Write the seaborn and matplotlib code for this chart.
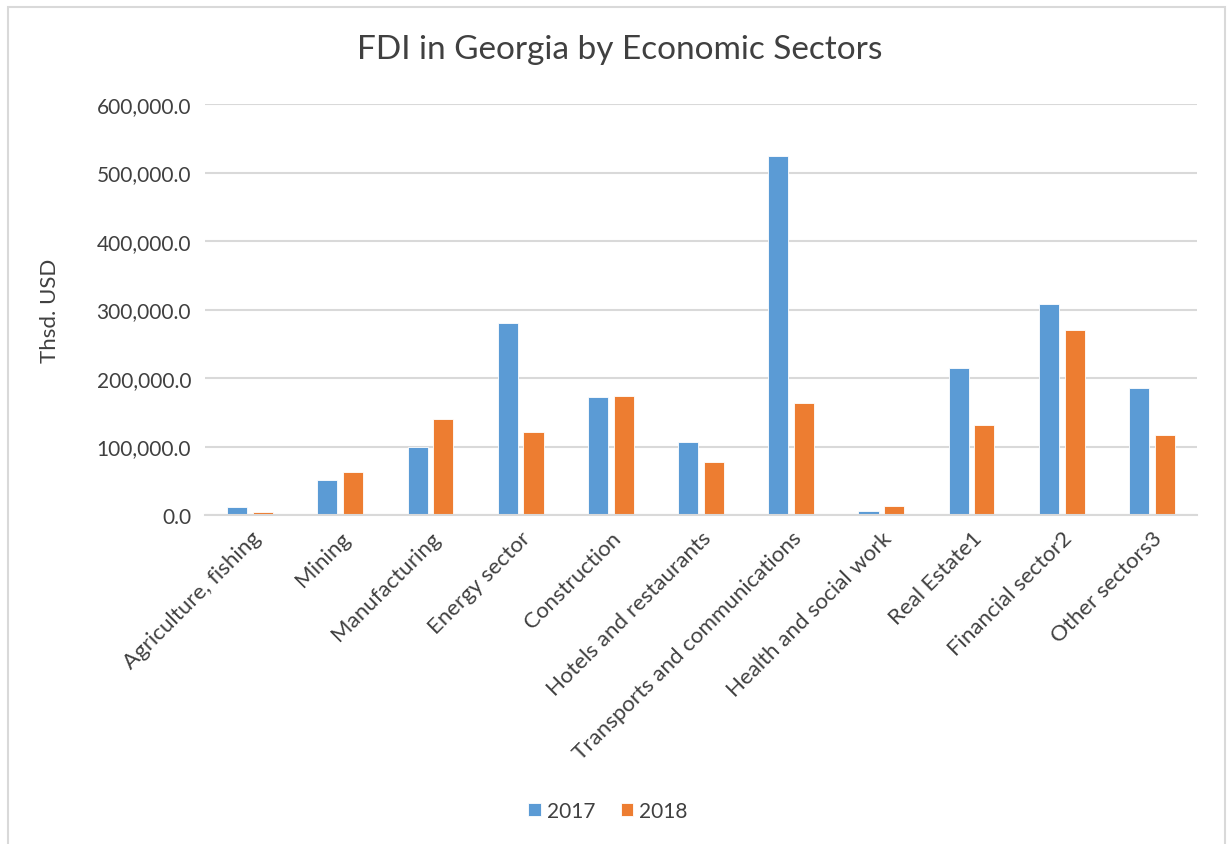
import matplotlib
matplotlib.use("Agg")
import matplotlib.pyplot as plt
from matplotlib.patches import Rectangle
from matplotlib.ticker import FuncFormatter
import seaborn as sns
import pandas as pd

# FDI by economic sector, thousands of USD
sectors = [
    "Agriculture, fishing", "Mining", "Manufacturing", "Energy sector",
    "Construction", "Hotels and restaurants", "Transports and communications",
    "Health and social work", "Real Estate1", "Financial sector2", "Other sectors3",
]
fdi_2017 = [11700, 51000, 99300, 280400, 172300, 107000, 524100, 5800, 214600, 307600, 185000]
fdi_2018 = [4000, 62800, 140000, 121200, 173000, 77800, 163500, 12700, 131400, 270500, 117200]
years = ["2017", "2018"]
colors = ["#5B9BD5", "#ED7D31"]

df = pd.DataFrame({
    "sector": sectors * 2,
    "year": [years[0]] * len(sectors) + [years[1]] * len(sectors),
    "value": fdi_2017 + fdi_2018,
})

sns.set_theme(style="white")
plt.rcParams["font.family"] = ["Lato", "DejaVu Sans"]
text_color = "#404040"

fig = plt.figure(figsize=(12.32, 8.45), dpi=100)
ax = fig.add_axes([205 / 1232, 1 - 516 / 845, (1197 - 205) / 1232, (516 - 105) / 845])

sns.barplot(data=df, x="sector", y="value", hue="year", palette=colors,
            width=0.57, gap=0.22, ax=ax, legend=True,
            edgecolor="white", linewidth=0.6, saturation=1)

ax.set_ylim(0, 600000)
ax.set_xlim(-0.5, len(sectors) - 0.5)
ax.set_yticks(range(0, 600001, 100000))
ax.yaxis.set_major_formatter(FuncFormatter(lambda v, p: f"{v:,.1f}"))
ax.grid(axis="y", color="#D9D9D9", linewidth=1.5)
ax.set_axisbelow(True)
for s in ["top", "right", "left"]:
    ax.spines[s].set_visible(False)
ax.spines["bottom"].set_color("#D9D9D9")
ax.spines["bottom"].set_linewidth(1.5)

ax.tick_params(axis="y", length=0, labelsize=15, colors=text_color, pad=10)
ax.tick_params(axis="x", length=0, labelsize=16, colors=text_color, pad=9)
plt.setp(ax.get_xticklabels(), rotation=45, ha="right", rotation_mode="anchor")
ax.set_xlabel("")
ax.set_ylabel("Thsd. USD", fontsize=16, color=text_color, labelpad=26)

fig.text(620 / 1232, 1 - 50 / 845, "FDI in Georgia by Economic Sectors",
         ha="center", va="center", fontsize=24, color=text_color)

leg = ax.legend(loc="center", bbox_to_anchor=(608 / 1232, 1 - 812 / 845),
                bbox_transform=fig.transFigure, ncol=2, frameon=False,
                fontsize=15, handlelength=0.6, handleheight=0.6,
                handletextpad=0.3, columnspacing=1.2)
for t in leg.get_texts():
    t.set_color(text_color)

# chart-area border
fig.patches.append(Rectangle((8 / 1232, -0.05), (1225 - 8) / 1232, 1.05 - 8 / 845,
                             transform=fig.transFigure, fill=False,
                             edgecolor="#D9D9D9", linewidth=1.5))

fig.savefig("out.png", dpi=100)
